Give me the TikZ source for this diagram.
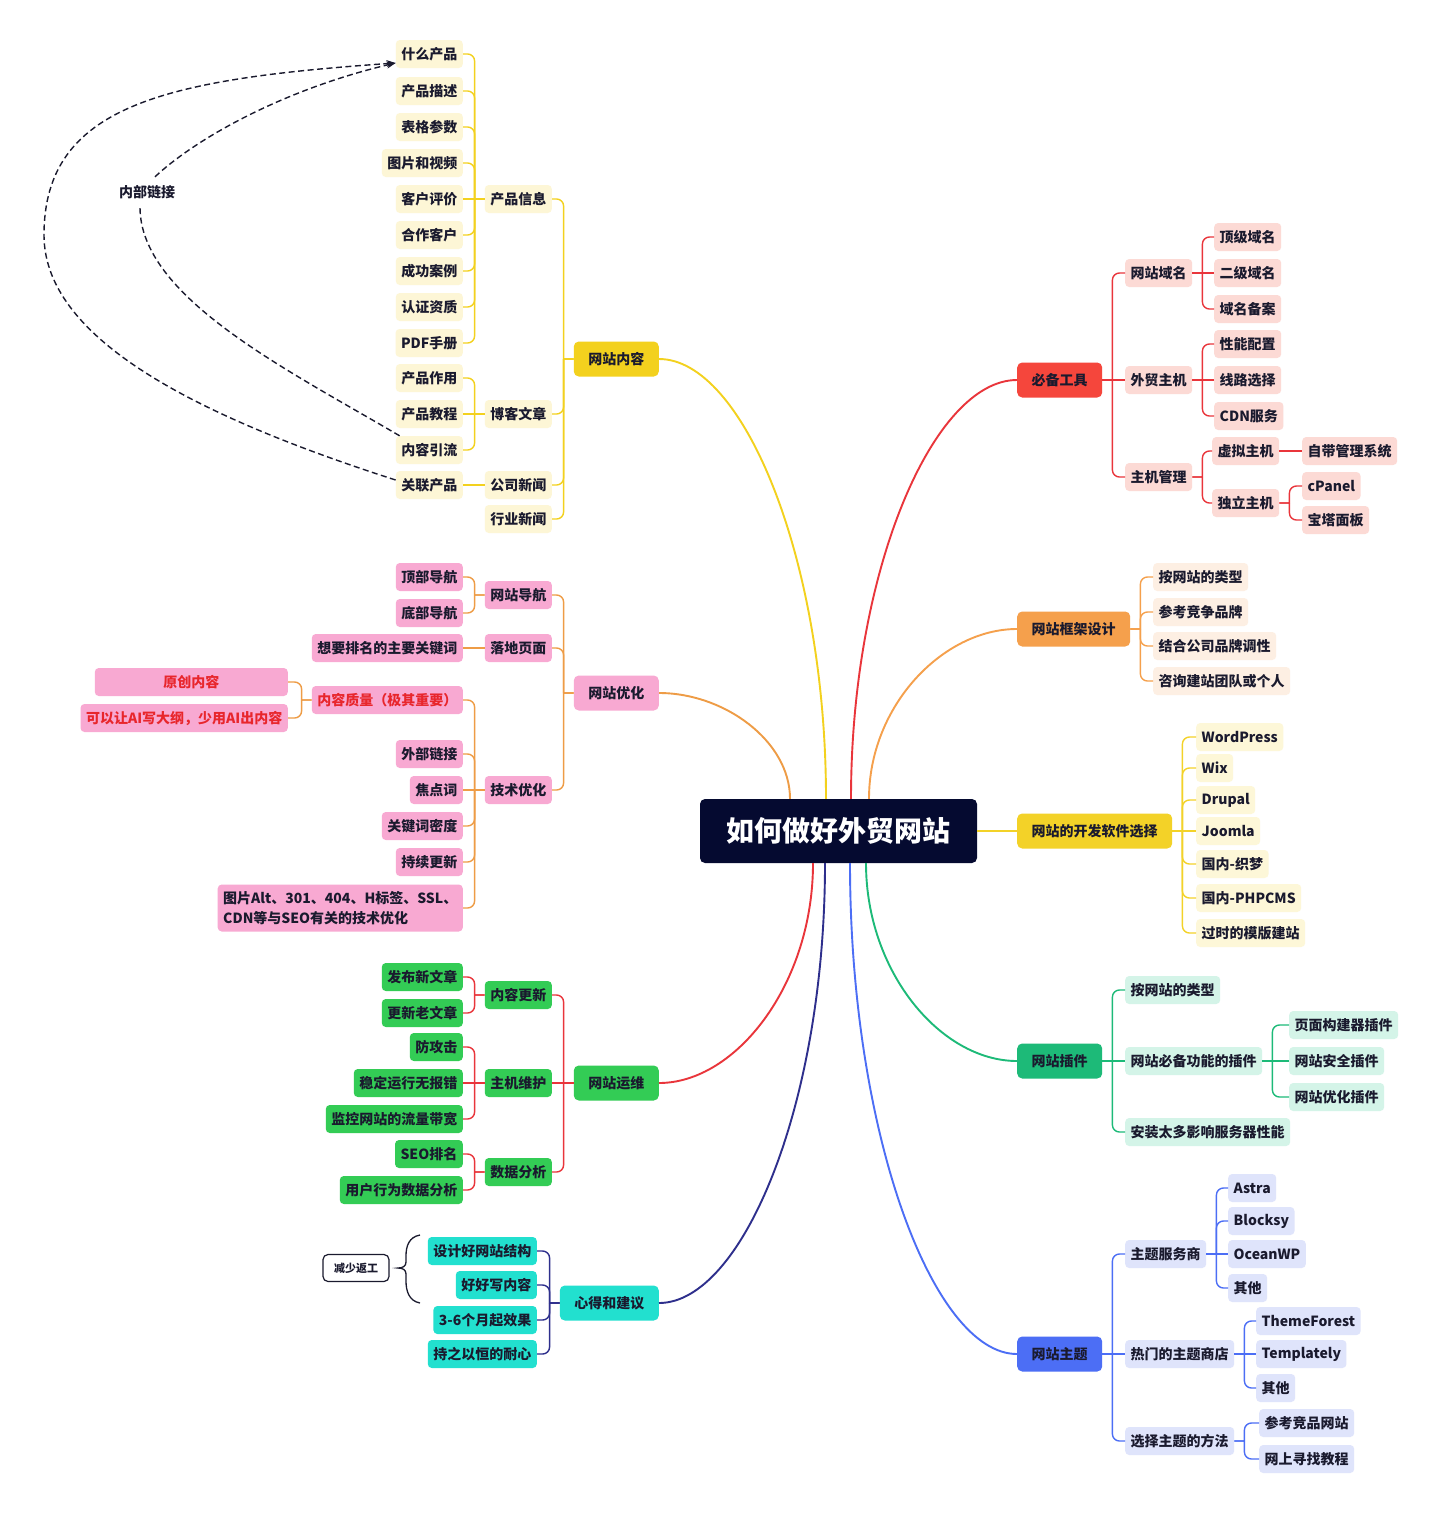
\documentclass[tikz,border=0pt]{standalone}
\usepackage{fontspec}
\setmainfont{Noto Sans CJK SC}
\usepackage{tikz}
\usetikzlibrary{arrows.meta}

\definecolor{hubc}{HTML}{050A30}
\definecolor{ink}{HTML}{1A1A2E}
\definecolor{ylw}{HTML}{F3D11E}
\definecolor{crm}{HTML}{FDF6D6}
\definecolor{pnk}{HTML}{F8A9D2}
\definecolor{org}{HTML}{EE9C46}
\definecolor{qred}{HTML}{E8262C}
\definecolor{grn}{HTML}{33CC55}
\definecolor{rln}{HTML}{E9353B}
\definecolor{cyn}{HTML}{22E0CF}
\definecolor{nvy}{HTML}{2E2F8C}
\definecolor{tlr}{HTML}{F5463C}
\definecolor{tll}{HTML}{FCDAD5}
\definecolor{frm}{HTML}{F5A04C}
\definecolor{frml}{HTML}{FDEFE3}
\definecolor{dev}{HTML}{F3D228}
\definecolor{devl}{HTML}{FDF7D8}
\definecolor{plg}{HTML}{1DBA78}
\definecolor{plgl}{HTML}{D4F4E8}
\definecolor{thm}{HTML}{4C6EF5}
\definecolor{thml}{HTML}{DFE4FB}

\begin{document}
\begin{tikzpicture}[x=1pt, y=-1pt,
    box/.style={rounded corners=4pt, minimum height=28pt, inner xsep=5.5pt, inner ysep=0pt,
        text=ink, font={\fontsize{14}{17}\selectfont\bfseries}},
    topic/.style={box, rounded corners=5pt, minimum height=35pt, inner xsep=14.5pt},
    hubbox/.style={fill=hubc, text=white, rounded corners=5pt, minimum width=277pt,
        minimum height=64pt, inner sep=0pt, font={\fontsize{28}{32}\selectfont\bfseries}},
    fanbox/.style={draw=ink, line width=1.2pt, fill=white, rounded corners=5pt, minimum width=66pt,
        minimum height=27pt, inner sep=0pt, text=ink, font={\fontsize{11}{13}\selectfont\bfseries}},
    lt/.style={anchor=east}, rt/.style={anchor=west},
    brl/.style={to path={-- ++(-10,0) [rounded corners=7pt] ++(0,0) |- (\tikztotarget) \tikztonodes}},
    brr/.style={to path={-- ++(10,0) [rounded corners=7pt] ++(0,0) |- (\tikztotarget) \tikztonodes}},
    wire/.style={line width=1.4pt},
    curve/.style={line width=1.9pt},
    lnk/.style={ink, dash pattern=on 6pt off 3.5pt, line width=1.4pt}]

    \path[fill=white] (0,0) rectangle (1440,1515);

    % centre
    \node[hubbox] (hub) at (838.5,831) {如何做好外贸网站};

    % website content
    \node[topic, lt, fill=ylw] (wznr) at (659,359) {网站内容};
    \node[box, lt, fill=crm] (cpxx) at (552,199) {产品信息};
    \node[box, lt, fill=crm] (bkwz) at (552,414) {博客文章};
    \node[box, lt, fill=crm] (gsxw) at (552,485) {公司新闻};
    \node[box, lt, fill=crm] (hyxw) at (552,519) {行业新闻};
    \node[box, lt, fill=crm] (what) at (463,54) {什么产品};
    \node[box, lt, fill=crm] (cpms) at (463,91) {产品描述};
    \node[box, lt, fill=crm] (bgcs) at (463,127) {表格参数};
    \node[box, lt, fill=crm] (tpsp) at (463,163) {图片和视频};
    \node[box, lt, fill=crm] (khpj) at (463,199) {客户评价};
    \node[box, lt, fill=crm] (hzkh) at (463,235) {合作客户};
    \node[box, lt, fill=crm] (cgal) at (463,271) {成功案例};
    \node[box, lt, fill=crm] (rzzz) at (463,307) {认证资质};
    \node[box, lt, fill=crm] (pdfs) at (463,343) {PDF手册};
    \node[box, lt, fill=crm] (cpzy) at (463,378) {产品作用};
    \node[box, lt, fill=crm] (cpjc) at (463,414) {产品教程};
    \node[box, lt, fill=crm] (nryl) at (463,450) {内容引流};
    \node[box, lt, fill=crm] (glcp) at (463,485) {关联产品};
    \node[text=ink, inner sep=0pt, minimum height=30pt, font={\fontsize{14}{17}\selectfont\bfseries}] (lnkt) at (147,192) {内部链接};

    % website optimisation
    \node[topic, lt, fill=pnk] (wzyh) at (659,693) {网站优化};
    \node[box, lt, fill=pnk] (wzdh) at (552,595) {网站导航};
    \node[box, lt, fill=pnk] (ldym) at (552,648) {落地页面};
    \node[box, lt, fill=pnk] (jsyh) at (552,790) {技术优化};
    \node[box, lt, fill=pnk] (dbdh) at (463,577) {顶部导航};
    \node[box, lt, fill=pnk] (ddbh) at (463,613) {底部导航};
    \node[box, lt, fill=pnk] (gjc) at (463,648) {想要排名的主要关键词};
    \node[box, lt, fill=pnk, text=qred] (nrzl) at (463,700) {内容质量（极其重要）};
    \node[box, lt, fill=pnk] (wblj) at (463,754) {外部链接};
    \node[box, lt, fill=pnk] (jdc) at (463,790) {焦点词};
    \node[box, lt, fill=pnk] (gjcmd) at (463,826) {关键词密度};
    \node[box, lt, fill=pnk] (cxgx) at (463,862) {持续更新};
    \node[box, lt, fill=pnk, align=left, minimum height=47pt, font={\fontsize{14}{20}\selectfont\bfseries}] (jsxj) at (463,908) {图片Alt、301、404、H标签、SSL、\\CDN等与SEO有关的技术优化};
    \node[box, lt, fill=pnk, text=qred, minimum width=193pt] (ycnr) at (288,682) {原创内容};
    \node[box, lt, fill=pnk, text=qred] (aidg) at (288,718) {可以让AI写大纲，少用AI出内容};

    % website operation
    \node[topic, lt, fill=grn] (wzyw) at (659,1083) {网站运维};
    \node[box, lt, fill=grn] (nrgx) at (552,995) {内容更新};
    \node[box, lt, fill=grn] (zjwh) at (552,1083) {主机维护};
    \node[box, lt, fill=grn] (sjfx) at (552,1172) {数据分析};
    \node[box, lt, fill=grn] (fbxw) at (463,977) {发布新文章};
    \node[box, lt, fill=grn] (gxlw) at (463,1013) {更新老文章};
    \node[box, lt, fill=grn] (fgj) at (463,1047) {防攻击};
    \node[box, lt, fill=grn] (wdyx) at (463,1083) {稳定运行无报错};
    \node[box, lt, fill=grn] (jkll) at (463,1119) {监控网站的流量带宽};
    \node[box, lt, fill=grn] (seop) at (463,1154) {SEO排名};
    \node[box, lt, fill=grn] (yhxw) at (463,1190) {用户行为数据分析};

    % advice
    \node[topic, lt, fill=cyn] (xdjy) at (659,1303) {心得和建议};
    \node[box, lt, fill=cyn] (sjjg) at (537,1251) {设计好网站结构};
    \node[box, lt, fill=cyn] (hhnr) at (537,1285) {好好写内容};
    \node[box, lt, fill=cyn] (sgyx) at (537,1320) {3-6个月起效果};
    \node[box, lt, fill=cyn] (czyh) at (537,1354) {持之以恒的耐心};
    \node[fanbox] (fan) at (356,1268) {减少返工};

    % tools
    \node[topic, rt, fill=tlr] (bbgj) at (1017,380) {必备工具};
    \node[box, rt, fill=tll] (wzym) at (1125,273) {网站域名};
    \node[box, rt, fill=tll] (wmzj) at (1125,380) {外贸主机};
    \node[box, rt, fill=tll] (zjgl) at (1125,477) {主机管理};
    \node[box, rt, fill=tll] (djym) at (1214,237) {顶级域名};
    \node[box, rt, fill=tll] (ejym) at (1214,273) {二级域名};
    \node[box, rt, fill=tll] (ymba) at (1214,309) {域名备案};
    \node[box, rt, fill=tll] (xnpz) at (1214,344) {性能配置};
    \node[box, rt, fill=tll] (xlxz) at (1214,380) {线路选择};
    \node[box, rt, fill=tll] (cdnf) at (1214,416) {CDN服务};
    \node[box, rt, fill=tll] (xnzj) at (1212,451) {虚拟主机};
    \node[box, rt, fill=tll] (dlzj) at (1212,503) {独立主机};
    \node[box, rt, fill=tll] (zdgl) at (1302,451) {自带管理系统};
    \node[box, rt, fill=tll] (cpnl) at (1302,486) {cPanel};
    \node[box, rt, fill=tll] (btmb) at (1302,520) {宝塔面板};

    % frame design
    \node[topic, rt, fill=frm] (wzkj) at (1017,629) {网站框架设计};
    \node[box, rt, fill=frml] (alx1) at (1153,577) {按网站的类型};
    \node[box, rt, fill=frml] (ckpp) at (1153,612) {参考竞争品牌};
    \node[box, rt, fill=frml] (jhgs) at (1153,646) {结合公司品牌调性};
    \node[box, rt, fill=frml] (zxtd) at (1153,681) {咨询建站团队或个人};

    % software
    \node[topic, rt, fill=dev] (kfrj) at (1017,831) {网站的开发软件选择};
    \node[box, rt, fill=devl] (wdpr) at (1196,737) {WordPress};
    \node[box, rt, fill=devl] (wixs) at (1196,768) {Wix};
    \node[box, rt, fill=devl] (drpl) at (1196,800) {Drupal};
    \node[box, rt, fill=devl] (jmla) at (1196,831) {Joomla};
    \node[box, rt, fill=devl] (zmeng) at (1196,864) {国内-织梦};
    \node[box, rt, fill=devl] (phpc) at (1196,898) {国内-PHPCMS};
    \node[box, rt, fill=devl] (gsmb) at (1196,933) {过时的模版建站};

    % plugins
    \node[topic, rt, fill=plg] (wzcj) at (1017,1061) {网站插件};
    \node[box, rt, fill=plgl] (alx2) at (1125,990) {按网站的类型};
    \node[box, rt, fill=plgl] (bbgn) at (1125,1061) {网站必备功能的插件};
    \node[box, rt, fill=plgl] (azdd) at (1125,1132) {安装太多影响服务器性能};
    \node[box, rt, fill=plgl] (ymgj) at (1289,1025) {页面构建器插件};
    \node[box, rt, fill=plgl] (aqcj) at (1289,1061) {网站安全插件};
    \node[box, rt, fill=plgl] (yhcj) at (1289,1097) {网站优化插件};

    % themes
    \node[topic, rt, fill=thm] (wzzt) at (1017,1354) {网站主题};
    \node[box, rt, fill=thml] (ztfw) at (1125,1254) {主题服务商};
    \node[box, rt, fill=thml] (rmsd) at (1125,1354) {热门的主题商店};
    \node[box, rt, fill=thml] (xzff) at (1125,1441) {选择主题的方法};
    \node[box, rt, fill=thml] (astr) at (1228,1188) {Astra};
    \node[box, rt, fill=thml] (blck) at (1228,1221) {Blocksy};
    \node[box, rt, fill=thml] (ocwp) at (1228,1254) {OceanWP};
    \node[box, rt, fill=thml] (qta) at (1228,1288) {其他};
    \node[box, rt, fill=thml] (thfr) at (1256,1321) {ThemeForest};
    \node[box, rt, fill=thml] (tmpl) at (1256,1354) {Templately};
    \node[box, rt, fill=thml] (qtb) at (1256,1388) {其他};
    \node[box, rt, fill=thml] (ckjp) at (1259,1423) {参考竞品网站};
    \node[box, rt, fill=thml] (wsxz) at (1259,1459) {网上寻找教程};

    % main curves
    \draw[curve, ylw] ([xshift=-12.5pt]hub.north) .. controls +(0,-240) and +(84,0) .. (wznr.east);
    \draw[curve, org] ([xshift=-48.5pt]hub.north) .. controls +(0,-58) and +(65,0) .. (wzyh.east);
    \draw[curve, rln] ([xshift=12.5pt]hub.north) .. controls +(0,-230) and +(-83,0) .. (bbgj.west);
    \draw[curve, frm] ([xshift=30.5pt]hub.north) .. controls +(0,-93) and +(-74,0) .. (wzkj.west);
    \draw[curve, dev] (hub.east) -- (kfrj.west);
    \draw[curve, rln] ([xshift=-25.5pt]hub.south) .. controls +(0,121) and +(77,0) .. (wzyw.east);
    \draw[curve, nvy] ([xshift=-13.5pt]hub.south) .. controls +(0,242) and +(83,0) .. (xdjy.east);
    \draw[curve, thm] ([xshift=11.5pt]hub.south) .. controls +(0,270) and +(-84,0) .. (wzzt.west);
    \draw[curve, plg] ([xshift=27.5pt]hub.south) .. controls +(0,109) and +(-76,0) .. (wzcj.west);

    % website content wires
    \draw[wire, ylw] (wznr.west) to[brl] (cpxx.east);
    \draw[wire, ylw] (wznr.west) to[brl] (bkwz.east);
    \draw[wire, ylw] (wznr.west) to[brl] (gsxw.east);
    \draw[wire, ylw] (wznr.west) to[brl] (hyxw.east);
    \draw[wire, ylw] (cpxx.west) to[brl] (what.east);
    \draw[wire, ylw] (cpxx.west) to[brl] (cpms.east);
    \draw[wire, ylw] (cpxx.west) to[brl] (bgcs.east);
    \draw[wire, ylw] (cpxx.west) to[brl] (tpsp.east);
    \draw[wire, ylw] (cpxx.west) -- (khpj.east);
    \draw[wire, ylw] (cpxx.west) to[brl] (hzkh.east);
    \draw[wire, ylw] (cpxx.west) to[brl] (cgal.east);
    \draw[wire, ylw] (cpxx.west) to[brl] (rzzz.east);
    \draw[wire, ylw] (cpxx.west) to[brl] (pdfs.east);
    \draw[wire, ylw] (bkwz.west) to[brl] (cpzy.east);
    \draw[wire, ylw] (bkwz.west) -- (cpjc.east);
    \draw[wire, ylw] (bkwz.west) to[brl] (nryl.east);
    \draw[wire, ylw] (gsxw.west) -- (glcp.east);

    % internal links
    \draw[lnk, -{Stealth[length=9pt,width=7pt]}] ([yshift=5pt]glcp.west) .. controls +(-180,-58) and +(0,110) .. (44,235) .. controls +(0,-130) and +(-230,16) .. ([yshift=-9pt]what.west);
    \draw[lnk] ([xshift=4pt]nryl.north west) .. controls +(-112,-66) and +(0,90) .. ([xshift=-7pt]lnkt.south);
    \draw[lnk, -{Stealth[length=9pt,width=7pt]}] ([xshift=8pt]lnkt.north) .. controls +(44,-41) and +(-107,25) .. ([yshift=-9pt]what.west);

    % optimisation wires
    \draw[wire, org] (wzyh.west) to[brl] (wzdh.east);
    \draw[wire, org] (wzyh.west) to[brl] (ldym.east);
    \draw[wire, org] (wzyh.west) to[brl] (jsyh.east);
    \draw[wire, org] (wzdh.west) to[brl] (dbdh.east);
    \draw[wire, org] (wzdh.west) to[brl] (ddbh.east);
    \draw[wire, org] (ldym.west) -- (gjc.east);
    \draw[wire, org] (jsyh.west) to[brl] (nrzl.east);
    \draw[wire, org] (jsyh.west) to[brl] (wblj.east);
    \draw[wire, org] (jsyh.west) -- (jdc.east);
    \draw[wire, org] (jsyh.west) to[brl] (gjcmd.east);
    \draw[wire, org] (jsyh.west) to[brl] (cxgx.east);
    \draw[wire, org] (jsyh.west) to[brl] (jsxj.east);
    \draw[wire, org] (nrzl.west) to[brl] (ycnr.east);
    \draw[wire, org] (nrzl.west) to[brl] (aidg.east);

    % operation wires
    \draw[wire, rln] (wzyw.west) to[brl] (nrgx.east);
    \draw[wire, rln] (wzyw.west) -- (zjwh.east);
    \draw[wire, rln] (wzyw.west) to[brl] (sjfx.east);
    \draw[wire, rln] (nrgx.west) to[brl] (fbxw.east);
    \draw[wire, rln] (nrgx.west) to[brl] (gxlw.east);
    \draw[wire, rln] (zjwh.west) to[brl] (fgj.east);
    \draw[wire, rln] (zjwh.west) -- (wdyx.east);
    \draw[wire, rln] (zjwh.west) to[brl] (jkll.east);
    \draw[wire, rln] (sjfx.west) to[brl] (seop.east);
    \draw[wire, rln] (sjfx.west) to[brl] (yhxw.east);

    % advice wires
    \draw[wire, nvy] (xdjy.west) to[brl] (sjjg.east);
    \draw[wire, nvy] (xdjy.west) to[brl] (hhnr.east);
    \draw[wire, nvy] (xdjy.west) to[brl] (sgyx.east);
    \draw[wire, nvy] (xdjy.west) to[brl] (czyh.east);
    \draw[ink, line width=1.3pt] (420,1235) .. controls (409,1237) and (406,1246) .. (406,1256) -- (406,1262) .. controls (406,1266) and (403,1268) .. (398,1268) .. controls (403,1268) and (406,1270) .. (406,1274) -- (406,1281) .. controls (406,1291) and (409,1301) .. (420,1303);

    % tools wires
    \draw[wire, rln] (bbgj.east) to[brr] (wzym.west);
    \draw[wire, rln] (bbgj.east) -- (wmzj.west);
    \draw[wire, rln] (bbgj.east) to[brr] (zjgl.west);
    \draw[wire, rln] (wzym.east) to[brr] (djym.west);
    \draw[wire, rln] (wzym.east) -- (ejym.west);
    \draw[wire, rln] (wzym.east) to[brr] (ymba.west);
    \draw[wire, rln] (wmzj.east) to[brr] (xnpz.west);
    \draw[wire, rln] (wmzj.east) -- (xlxz.west);
    \draw[wire, rln] (wmzj.east) to[brr] (cdnf.west);
    \draw[wire, rln] (zjgl.east) to[brr] (xnzj.west);
    \draw[wire, rln] (zjgl.east) to[brr] (dlzj.west);
    \draw[wire, rln] (xnzj.east) -- (zdgl.west);
    \draw[wire, rln] (dlzj.east) to[brr] (cpnl.west);
    \draw[wire, rln] (dlzj.east) to[brr] (btmb.west);

    % frame wires
    \draw[wire, frm] (wzkj.east) to[brr] (alx1.west);
    \draw[wire, frm] (wzkj.east) to[brr] (ckpp.west);
    \draw[wire, frm] (wzkj.east) to[brr] (jhgs.west);
    \draw[wire, frm] (wzkj.east) to[brr] (zxtd.west);

    % software wires
    \draw[wire, dev] (kfrj.east) to[brr] (wdpr.west);
    \draw[wire, dev] (kfrj.east) to[brr] (wixs.west);
    \draw[wire, dev] (kfrj.east) to[brr] (drpl.west);
    \draw[wire, dev] (kfrj.east) -- (jmla.west);
    \draw[wire, dev] (kfrj.east) to[brr] (zmeng.west);
    \draw[wire, dev] (kfrj.east) to[brr] (phpc.west);
    \draw[wire, dev] (kfrj.east) to[brr] (gsmb.west);

    % plugin wires
    \draw[wire, plg] (wzcj.east) to[brr] (alx2.west);
    \draw[wire, plg] (wzcj.east) -- (bbgn.west);
    \draw[wire, plg] (wzcj.east) to[brr] (azdd.west);
    \draw[wire, plg] (bbgn.east) to[brr] (ymgj.west);
    \draw[wire, plg] (bbgn.east) -- (aqcj.west);
    \draw[wire, plg] (bbgn.east) to[brr] (yhcj.west);

    % theme wires
    \draw[wire, thm] (wzzt.east) to[brr] (ztfw.west);
    \draw[wire, thm] (wzzt.east) -- (rmsd.west);
    \draw[wire, thm] (wzzt.east) to[brr] (xzff.west);
    \draw[wire, thm] (ztfw.east) to[brr] (astr.west);
    \draw[wire, thm] (ztfw.east) to[brr] (blck.west);
    \draw[wire, thm] (ztfw.east) -- (ocwp.west);
    \draw[wire, thm] (ztfw.east) to[brr] (qta.west);
    \draw[wire, thm] (rmsd.east) to[brr] (thfr.west);
    \draw[wire, thm] (rmsd.east) -- (tmpl.west);
    \draw[wire, thm] (rmsd.east) to[brr] (qtb.west);
    \draw[wire, thm] (xzff.east) to[brr] (ckjp.west);
    \draw[wire, thm] (xzff.east) to[brr] (wsxz.west);
\end{tikzpicture}
\end{document}
